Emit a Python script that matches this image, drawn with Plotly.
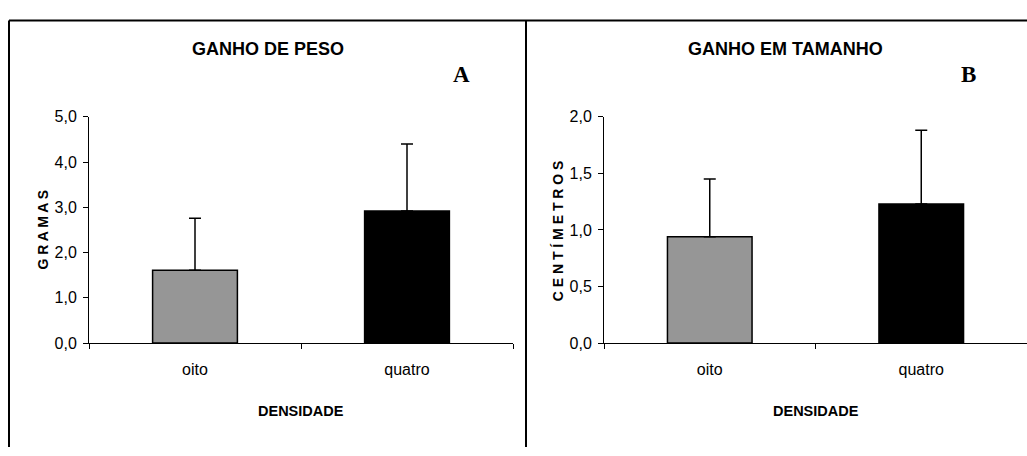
import plotly.graph_objects as go

categories = ["oito", "quatro"]
peso_mean = [1.61, 2.92]
peso_err = [1.15, 1.48]
tam_mean = [0.94, 1.23]
tam_err = [0.51, 0.65]
bar_colors = ["#969696", "#000000"]

W, H = 1027, 456
def px(x):
    return x / W
def py(y):
    return (H - y) / H

SANS = "Liberation Sans, Arial, sans-serif"
SERIF = "Liberation Serif, Times New Roman, serif"

fig = go.Figure()
for vals, errs, xa, ya in [(peso_mean, peso_err, "x", "y"), (tam_mean, tam_err, "x2", "y2")]:
    fig.add_trace(go.Bar(
        x=categories, y=vals, width=0.4,
        marker=dict(color=bar_colors, line=dict(color="black", width=1.5)),
        error_y=dict(type="data", symmetric=False, array=errs, arrayminus=[0, 0],
                     color="black", thickness=1.5, width=6),
        xaxis=xa, yaxis=ya, showlegend=False, hoverinfo="skip",
    ))

ydom = [py(348), py(113)]
common_x = dict(type="category", range=[-0.5, 1.5], tickson="boundaries", ticks="outside",
                ticklen=5, tickcolor="black", showline=True, linecolor="black", linewidth=1,
                showgrid=False, zeroline=False, tickfont=dict(family=SANS, size=16, color="black"),
                ticklabelstandoff=12)
common_y = dict(ticks="outside", ticklen=5, tickcolor="black", showline=True, linecolor="black",
                linewidth=1, showgrid=False, zeroline=False, tickformat=".1f",
                tickfont=dict(family=SANS, size=16, color="black"), ticklabelstandoff=3,
                domain=ydom)

fig.update_layout(
    width=W, height=H, margin=dict(l=0, r=0, t=0, b=0), autosize=False,
    paper_bgcolor="white", plot_bgcolor="white", separators=", ",
    xaxis=dict(domain=[px(89), px(513)], anchor="y", **common_x),
    yaxis=dict(range=[0, 5], dtick=1, anchor="x", **common_y),
    xaxis2=dict(domain=[px(604), 1.0], anchor="y2", **common_x),
    yaxis2=dict(range=[0, 2], dtick=0.5, anchor="x2", **common_y),
)

annotations = [
    dict(text="<b>GANHO DE PESO</b>", x=px(268), y=py(43), font=dict(family=SANS, size=18)),
    dict(text="<b>GANHO EM TAMANHO</b>", x=px(785), y=py(43), font=dict(family=SANS, size=18)),
    dict(text="<b>A</b>", x=px(461), y=py(69), font=dict(family=SERIF, size=23)),
    dict(text="<b>B</b>", x=px(968), y=py(69), font=dict(family=SERIF, size=23)),
    dict(text="<b>DENSIDADE</b>", x=px(301), y=py(419), font=dict(family=SANS, size=14.5)),
    dict(text="<b>DENSIDADE</b>", x=px(816), y=py(419), font=dict(family=SANS, size=14.5)),
    dict(text="<b>G R A M A S</b>", x=px(43), y=py(230), textangle=-90, font=dict(family=SANS, size=14)),
    dict(text="<b>C E N T Í M E T R O S</b>", x=px(558), y=py(232), textangle=-90, font=dict(family=SANS, size=14)),
]
for a in annotations:
    a.update(xref="paper", yref="paper", showarrow=False, xanchor="center", yanchor="middle")
    a["font"]["color"] = "black"
fig.update_layout(annotations=annotations)

frame = dict(type="line", xref="paper", yref="paper", line=dict(color="black", width=2))
fig.update_layout(shapes=[
    dict(x0=px(9), x1=1.0, y0=py(13), y1=py(13), **frame),
    dict(x0=px(9), x1=px(9), y0=py(13), y1=0, **frame),
    dict(x0=px(526), x1=px(526), y0=py(13), y1=0, **frame),
])

post = ("document.body.style.margin='0px';"
        "document.documentElement.style.overflow='hidden';"
        "document.body.style.overflow='hidden';")
fig.write_html("out.html", post_script=post, config={"responsive": False, "displayModeBar": False})
